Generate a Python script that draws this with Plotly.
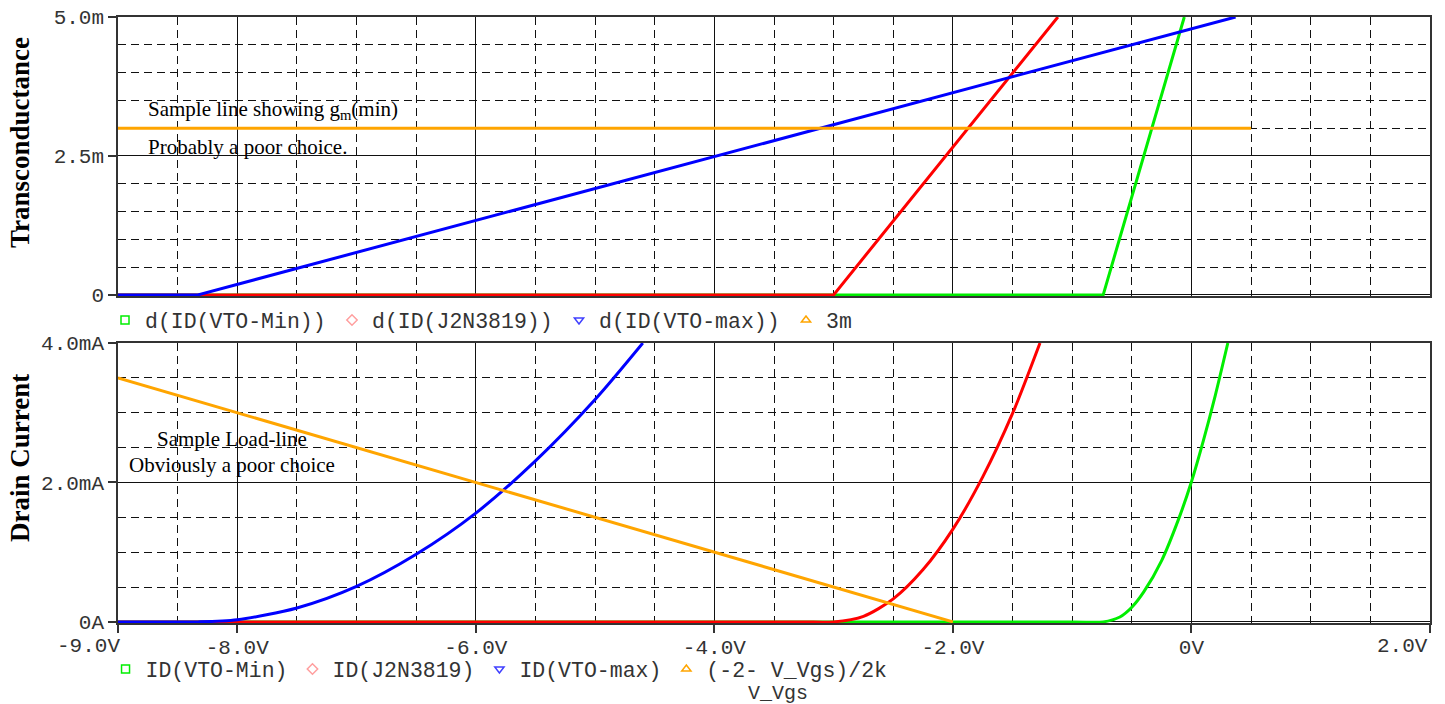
import plotly.graph_objects as go

# ---------------- data ----------------
# Top panel: transconductance, in mS ("m")
vgs_gm_min = [-9.0, -0.74, -0.06]
gm_min = [0.0, 0.0, 5.0]
vgs_gm_typ = [-9.0, -3.0, -1.12]
gm_typ = [0.0, 0.0, 5.0]
vgs_gm_max = [-9.0, -8.33, 0.37]
gm_max = [0.0, 0.0, 5.0]
vgs_gm_ref = [-9.0, 0.5]
gm_ref = [3.0, 3.0]

# Bottom panel: drain current, in mA
vgs_id_min = [-9.0, -1.0, -0.74, -0.6, -0.5, -0.4, -0.25, -0.1, 0.0, 0.1, 0.2, 0.305]
id_min = [0.0, 0.0, 0.0, 0.07, 0.21, 0.43, 0.88, 1.51, 2.01, 2.60, 3.25, 4.0]
vgs_id_typ = [-9.0, -3.3, -3.0, -2.75, -2.5, -2.25, -2.0, -1.75, -1.5, -1.27]
id_typ = [0.0, 0.0, 0.0, 0.08, 0.33, 0.75, 1.33, 2.08, 2.99, 4.0]
vgs_id_max = [-9.0, -8.6, -8.33, -8.0, -7.5, -7.0, -6.5, -6.0, -5.5, -5.0, -4.6]
id_max = [0.0, 0.0, 0.0, 0.03, 0.20, 0.51, 0.97, 1.56, 2.31, 3.19, 4.0]
vgs_load = [-9.0, -2.0]
id_load = [3.5, 0.0]

# x tick labels; the two end labels are placed flush against their ticks
x_tickvals = [-9, -8, -6, -4, -2, 0, 2]
x_ticktext = ["\u00a0", "-8.0V", "-6.0V", "-4.0V", "-2.0V", "0V", "\u00a0"]
x_end_vals = [-9, 2]
x_end_text = ["-9.0V", "2.0V"]
y1_tickvals = [0, 2.5, 5.0]
y1_ticktext = ["0", "2.5m", "5.0m"]
y2_tickvals = [0, 2.0, 4.0]
y2_ticktext = ["0A", "2.0mA", "4.0mA"]

top_names = ["d(ID(VTO-Min))", "d(ID(J2N3819))", "d(ID(VTO-max))", "3m"]
bot_names = ["ID(VTO-Min)", "ID(J2N3819)", "ID(VTO-max)", "(-2- V_Vgs)/2k"]

GREEN = "#00ee00"
RED = "#ff0000"
BLUE = "#0000ff"
ORANGE = "#ffa500"
legend_colors = [GREEN, "#ff9f9f", "#4040ff", ORANGE]
symbols = ["square-open", "diamond-open", "triangle-down-open", "triangle-up-open"]

MONO = "Liberation Mono"
SERIF = "Liberation Serif"

fig = go.Figure()

# top traces
for xs, ys, c in [(vgs_gm_min, gm_min, GREEN), (vgs_gm_typ, gm_typ, RED),
                  (vgs_gm_max, gm_max, BLUE), (vgs_gm_ref, gm_ref, ORANGE)]:
    fig.add_trace(go.Scatter(x=xs, y=ys, mode="lines", line=dict(color=c, width=3),
                             showlegend=False, xaxis="x", yaxis="y", hoverinfo="skip"))
# bottom traces
for xs, ys, c, shp in [(vgs_id_min, id_min, GREEN, "spline"), (vgs_id_typ, id_typ, RED, "spline"),
                       (vgs_id_max, id_max, BLUE, "spline"), (vgs_load, id_load, ORANGE, "linear")]:
    fig.add_trace(go.Scatter(x=xs, y=ys, mode="lines",
                             line=dict(color=c, width=3, shape=shp, smoothing=0.8),
                             showlegend=False, xaxis="x2", yaxis="y2", hoverinfo="skip"))

# legend entries (symbols only, like the reference)
for name, c, s in zip(top_names, legend_colors, symbols):
    fig.add_trace(go.Scatter(x=[None], y=[None], mode="markers", name=name,
                             marker=dict(symbol=s, size=8, color=c, line=dict(width=1.5, color=c)),
                             xaxis="x", yaxis="y", legend="legend"))
for name, c, s in zip(bot_names, legend_colors, symbols):
    fig.add_trace(go.Scatter(x=[None], y=[None], mode="markers", name=name,
                             marker=dict(symbol=s, size=8, color=c, line=dict(width=1.5, color=c)),
                             xaxis="x2", yaxis="y2", legend="legend2"))

DASH = "8px,5px"
common_x = dict(range=[-9, 2], tickmode="array", tickvals=x_tickvals,
                showgrid=True, gridcolor="#111", gridwidth=1,
                minor=dict(dtick=0.5, tick0=-9, showgrid=True, gridcolor="#111", griddash=DASH, gridwidth=1),
                showline=True, linecolor="#333", linewidth=1.5, mirror=True,
                zeroline=False, layer="below traces")

TICKFONT = dict(family=MONO, size=21, color="#333")
LEGFONT = dict(family=MONO, size=21.5, color="#333")
NOTEFONT = dict(family=SERIF, size=21, color="black")

annotations = [
    dict(text="Transconductance", textangle=-90, x=-0.0747, y=0.7937, xref="paper", yref="paper",
         xanchor="center", yanchor="middle", showarrow=False,
         font=dict(family=SERIF, size=27, color="black", weight="bold")),
    dict(text="Drain Current", textangle=-90, x=-0.0747, y=0.2723, xref="paper", yref="paper",
         xanchor="center", yanchor="middle", showarrow=False,
         font=dict(family=SERIF, size=27, color="black", weight="bold")),
    dict(text="V_Vgs", x=0.503, y=-0.117, xref="paper", yref="paper",
         xanchor="center", yanchor="middle", showarrow=False,
         font=dict(family=MONO, size=20, color="#333")),
    dict(text="Sample line showing g<sub>m</sub>(min)", x=-8.765, y=3.333, xref="x", yref="y",
         xanchor="left", yanchor="middle", showarrow=False, font=NOTEFONT),
    dict(text="Probably a poor choice.", x=-8.765, y=2.67, xref="x", yref="y",
         xanchor="left", yanchor="middle", showarrow=False, font=NOTEFONT),
    dict(text="Sample Load-line", x=-8.69, y=2.63, xref="x2", yref="y2",
         xanchor="left", yanchor="middle", showarrow=False, font=NOTEFONT),
    dict(text="Obviously a poor choice", x=-8.925, y=2.257, xref="x2", yref="y2",
         xanchor="left", yanchor="middle", showarrow=False, font=NOTEFONT),
]
for v, t, shift in zip(x_end_vals, x_end_text, [4, 0]):
    annotations.append(dict(text=t, x=v, xref="x2", y=-0.0396, yref="paper",
                            xanchor="right", yanchor="middle", xshift=shift, showarrow=False,
                            font=TICKFONT))

fig.update_layout(
    width=1445, height=704,
    margin=dict(l=118, r=15, t=17, b=81, autoexpand=False),
    paper_bgcolor="white", plot_bgcolor="white",
    xaxis=dict(common_x, domain=[0, 1], anchor="y", showticklabels=False, ticks=""),
    yaxis=dict(domain=[0.5396, 1.0], anchor="x", range=[-0.02, 5.0],
               tickmode="array", tickvals=y1_tickvals, ticktext=y1_ticktext,
               ticks="outside", ticklen=8, tickcolor="#333", tickwidth=1.5,
               tickfont=TICKFONT,
               showgrid=True, gridcolor="#111", gridwidth=1,
               minor=dict(dtick=0.5, tick0=0, showgrid=True, gridcolor="#111", griddash=DASH, gridwidth=1),
               showline=True, linecolor="#333", linewidth=1.5, mirror=True,
               zeroline=False, layer="below traces"),
    xaxis2=dict(common_x, domain=[0, 1], anchor="y2", ticktext=x_ticktext,
                ticks="outside", ticklen=8, tickcolor="#333", tickwidth=1.5,
                tickfont=TICKFONT, ticklabelstandoff=-4),
    yaxis2=dict(domain=[0.0, 0.4620], anchor="x2", range=[-0.016, 4.0],
                tickmode="array", tickvals=y2_tickvals, ticktext=y2_ticktext,
                ticks="outside", ticklen=8, tickcolor="#333", tickwidth=1.5,
                tickfont=TICKFONT,
                showgrid=True, gridcolor="#111", gridwidth=1,
                minor=dict(dtick=0.5, tick0=0, showgrid=True, gridcolor="#111", griddash=DASH, gridwidth=1),
                showline=True, linecolor="#333", linewidth=1.5, mirror=True,
                zeroline=False, layer="below traces"),
    legend=dict(orientation="h", x=0, xanchor="left", y=0.5, yanchor="middle",
                indentation=-13, entrywidth=195, entrywidthmode="pixels",
                font=LEGFONT, bgcolor="rgba(0,0,0,0)",
                itemclick=False, itemdoubleclick=False),
    legend2=dict(orientation="h", x=-0.0095, xanchor="left", y=-0.076, yanchor="middle",
                 font=LEGFONT, bgcolor="rgba(0,0,0,0)",
                 itemclick=False, itemdoubleclick=False),
    annotations=annotations,
)

fig.write_html("out.html", config={"displayModeBar": False},
               post_script="document.body.style.margin='0';document.body.style.padding='0';")
